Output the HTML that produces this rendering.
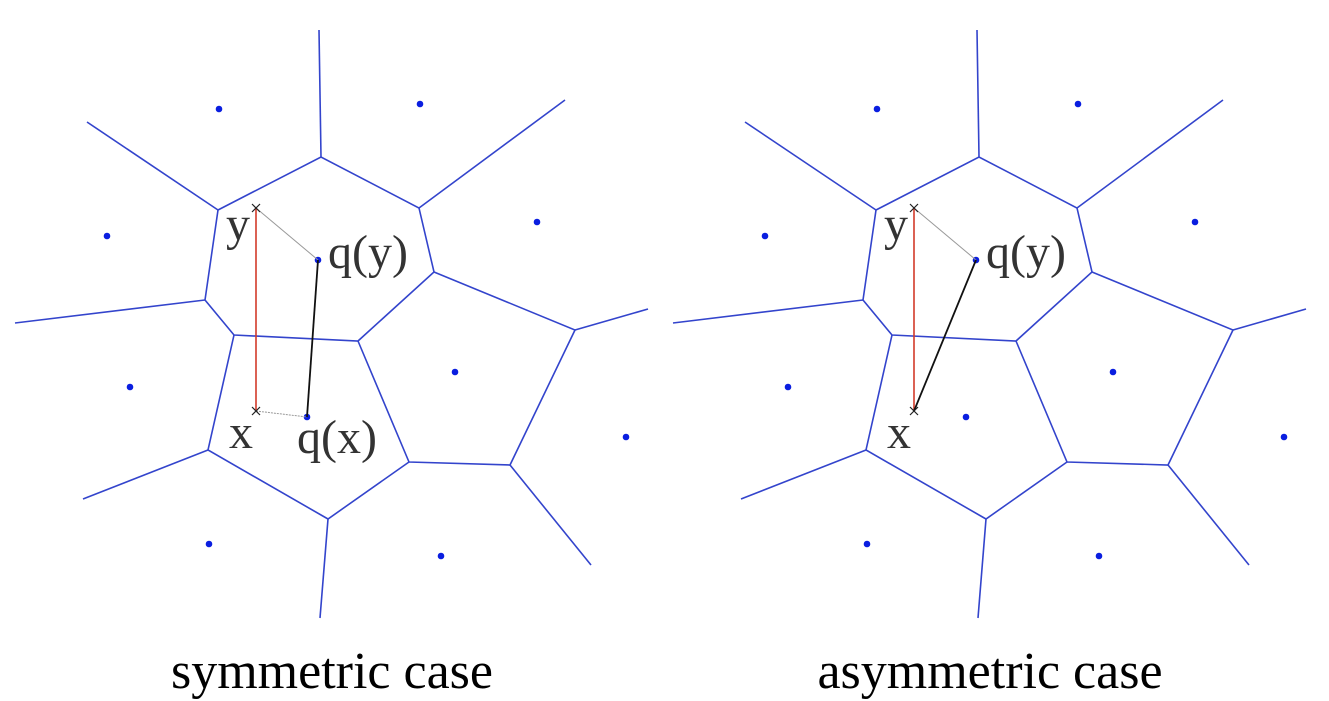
<!DOCTYPE html>
<html><head><meta charset="utf-8"><style>
html,body{margin:0;padding:0;background:#fff;}
svg{display:block;}
</style></head><body>
<svg width="1329" height="701" viewBox="0 0 1329 701" xmlns="http://www.w3.org/2000/svg">
<defs>
<g id="vor" stroke="#3344cc" stroke-width="1.6" fill="none">
<polyline points="218,210 321,157 419,208 434,272 358,341 234,335 205,300 218,210"/>
<line x1="321" y1="157" x2="319" y2="30"/>
<line x1="218" y1="210" x2="87" y2="122"/>
<line x1="419" y1="208" x2="565" y2="100"/>
<line x1="205" y1="300" x2="15" y2="323"/>
<polyline points="434,272 575,330 510,465 409,462 358,341"/>
<line x1="575" y1="330" x2="648" y2="309"/>
<line x1="510" y1="465" x2="591" y2="565"/>
<polyline points="409,462 328,519 208,450 234,335"/>
<line x1="328" y1="519" x2="320" y2="618"/>
<line x1="208" y1="450" x2="83" y2="499"/>
</g>
<g id="dots" fill="#0a1ee0">
<circle cx="219" cy="109" r="3.3"/><circle cx="420" cy="104" r="3.3"/>
<circle cx="107" cy="236" r="3.3"/><circle cx="537" cy="222" r="3.3"/>
<circle cx="130" cy="387" r="3.3"/><circle cx="455" cy="372" r="3.3"/>
<circle cx="626" cy="437" r="3.3"/><circle cx="209" cy="544" r="3.3"/>
<circle cx="441" cy="556" r="3.3"/><circle cx="318" cy="260" r="3.3"/>
</g>
</defs>
<use href="#vor"/>
<use href="#dots"/>
<circle cx="307" cy="417" r="3.3" fill="#0a1ee0"/>
<line x1="256" y1="208" x2="256" y2="411" stroke="#d23a2a" stroke-width="1.6"/>
<line x1="256" y1="208" x2="318" y2="260" stroke="#999" stroke-width="1"/>
<line x1="256" y1="411" x2="307" y2="417" stroke="#999" stroke-width="1" stroke-dasharray="2,1"/>
<line x1="318" y1="260" x2="307" y2="417" stroke="#111" stroke-width="1.8"/>
<g stroke="#222" stroke-width="1.2">
<line x1="252" y1="204" x2="260" y2="212"/><line x1="260" y1="204" x2="252" y2="212"/>
<line x1="252" y1="407" x2="260" y2="415"/><line x1="260" y1="407" x2="252" y2="415"/>
</g>
<g font-family="'Liberation Serif',serif" font-size="48" fill="#333">
<text x="226" y="240">y</text>
<text x="328" y="268">q(y)</text>
<text x="229" y="448">x</text>
<text x="297" y="453">q(x)</text>
</g>
<g transform="translate(658,0)">
<use href="#vor"/>
<use href="#dots"/>
</g>
<circle cx="966" cy="417" r="3.3" fill="#0a1ee0"/>
<line x1="914" y1="208" x2="914" y2="411" stroke="#d23a2a" stroke-width="1.6"/>
<line x1="914" y1="208" x2="976" y2="260" stroke="#999" stroke-width="1"/>
<line x1="976" y1="260" x2="914" y2="411" stroke="#111" stroke-width="1.8"/>
<g stroke="#222" stroke-width="1.2">
<line x1="910" y1="204" x2="918" y2="212"/><line x1="918" y1="204" x2="910" y2="212"/>
<line x1="910" y1="407" x2="918" y2="415"/><line x1="918" y1="407" x2="910" y2="415"/>
</g>
<g font-family="'Liberation Serif',serif" font-size="48" fill="#333">
<text x="884" y="240">y</text>
<text x="986" y="268">q(y)</text>
<text x="887" y="448">x</text>
</g>
<g font-family="'Liberation Serif',serif" font-size="52" fill="#000" text-anchor="middle">
<text x="332" y="688">symmetric case</text>
<text x="990" y="688">asymmetric case</text>
</g>
</svg>
</body></html>
